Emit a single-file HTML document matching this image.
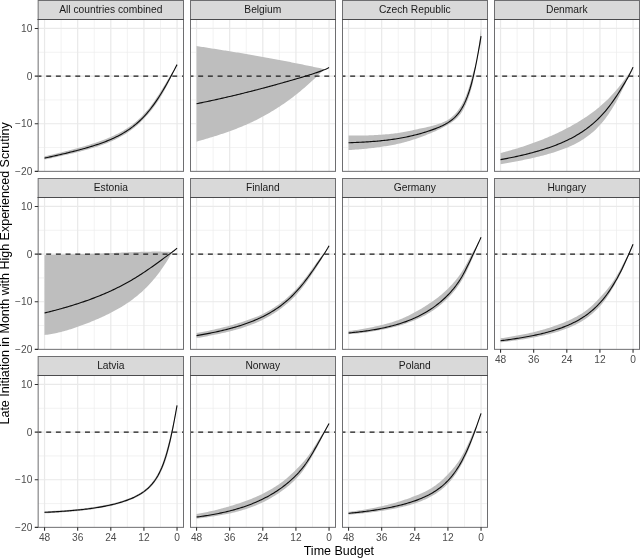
<!DOCTYPE html>
<html lang="en"><head><meta charset="utf-8"><title>Time Budget</title>
<style>html,body{margin:0;padding:0;background:#fff}body{width:640px;height:558px;overflow:hidden}</style></head>
<body>
<svg width="640" height="558" viewBox="0 0 640 558" style="display:block;font-family:'Liberation Sans',Arial,Helvetica,sans-serif">
<rect width="640" height="558" fill="#fff"/>
<defs>
<clipPath id="cp0"><rect x="38.15" y="19.50" width="145.35" height="151.85"/></clipPath>
<clipPath id="cp1"><rect x="190.50" y="19.50" width="145.00" height="151.85"/></clipPath>
<clipPath id="cp2"><rect x="342.50" y="19.50" width="145.00" height="151.85"/></clipPath>
<clipPath id="cp3"><rect x="494.50" y="19.50" width="145.00" height="151.85"/></clipPath>
<clipPath id="cp4"><rect x="38.15" y="197.50" width="145.35" height="151.85"/></clipPath>
<clipPath id="cp5"><rect x="190.50" y="197.50" width="145.00" height="151.85"/></clipPath>
<clipPath id="cp6"><rect x="342.50" y="197.50" width="145.00" height="151.85"/></clipPath>
<clipPath id="cp7"><rect x="494.50" y="197.50" width="145.00" height="151.85"/></clipPath>
<clipPath id="cp8"><rect x="38.15" y="375.50" width="145.35" height="151.85"/></clipPath>
<clipPath id="cp9"><rect x="190.50" y="375.50" width="145.00" height="151.85"/></clipPath>
<clipPath id="cp10"><rect x="342.50" y="375.50" width="145.00" height="151.85"/></clipPath>
</defs>
<g>
<rect x="38.15" y="19.50" width="145.35" height="151.85" fill="#fff"/>
<path d="M38.15 147.57H183.50M38.15 99.92H183.50M38.15 52.27H183.50M61.11 19.50V171.35M94.24 19.50V171.35M127.36 19.50V171.35M160.49 19.50V171.35" stroke="#ebebeb" stroke-width="0.65" fill="none"/>
<path d="M38.15 123.75H183.50M38.15 76.10H183.50M38.15 28.45H183.50M44.55 19.50V171.35M77.67 19.50V171.35M110.80 19.50V171.35M143.92 19.50V171.35M177.05 19.50V171.35" stroke="#e9e9e9" stroke-width="1.2" fill="none"/>
<g clip-path="url(#cp0)">
<polygon points="44.55,156.32 45.93,156.01 47.31,155.69 48.69,155.37 50.07,155.04 51.45,154.72 52.83,154.39 54.21,154.07 55.59,153.74 56.97,153.40 58.35,153.07 59.73,152.73 61.11,152.40 62.49,152.06 63.87,151.71 65.25,151.37 66.63,151.02 68.01,150.67 69.39,150.31 70.77,149.96 72.15,149.59 73.53,149.23 74.91,148.86 76.29,148.49 77.67,148.11 79.06,147.73 80.44,147.34 81.82,146.95 83.20,146.55 84.58,146.14 85.96,145.73 87.34,145.31 88.72,144.89 90.10,144.46 91.48,144.03 92.86,143.58 94.24,143.13 95.62,142.68 97.00,142.21 98.38,141.73 99.76,141.24 101.14,140.74 102.52,140.23 103.90,139.71 105.28,139.18 106.66,138.63 108.04,138.07 109.42,137.49 110.80,136.90 112.18,136.29 113.56,135.66 114.94,135.02 116.32,134.35 117.70,133.66 119.08,132.94 120.46,132.20 121.84,131.43 123.22,130.63 124.60,129.81 125.98,128.95 127.36,128.06 128.74,127.13 130.12,126.17 131.50,125.17 132.88,124.13 134.26,123.04 135.64,121.91 137.02,120.74 138.40,119.52 139.78,118.24 141.16,116.92 142.54,115.54 143.92,114.10 145.30,112.60 146.68,111.03 148.06,109.38 149.45,107.67 150.83,105.89 152.21,104.04 153.59,102.13 154.97,100.16 156.35,98.12 157.73,96.03 159.11,93.89 160.49,91.69 161.87,89.47 163.25,87.23 164.63,84.99 166.01,82.73 167.39,80.45 168.77,78.15 170.15,76.01 171.53,74.02 172.91,71.87 174.29,69.53 175.67,67.12 177.05,64.62 177.05,64.62 175.67,67.41 174.29,70.26 172.91,73.16 171.53,76.19 170.15,79.30 168.77,82.21 167.39,84.90 166.01,87.52 164.63,90.07 163.25,92.54 161.87,94.91 160.49,97.18 159.11,99.36 157.73,101.47 156.35,103.49 154.97,105.44 153.59,107.33 152.21,109.14 150.83,110.89 149.45,112.58 148.06,114.21 146.68,115.78 145.30,117.31 143.92,118.80 142.54,120.24 141.16,121.62 139.78,122.94 138.40,124.22 137.02,125.44 135.64,126.61 134.26,127.74 132.88,128.83 131.50,129.87 130.12,130.87 128.74,131.83 127.36,132.76 125.98,133.65 124.60,134.50 123.22,135.32 121.84,136.11 120.46,136.87 119.08,137.60 117.70,138.31 116.32,138.99 114.94,139.65 113.56,140.28 112.18,140.90 110.80,141.50 109.42,142.08 108.04,142.65 106.66,143.19 105.28,143.73 103.90,144.25 102.52,144.75 101.14,145.25 99.76,145.73 98.38,146.19 97.00,146.65 95.62,147.10 94.24,147.53 92.86,147.96 91.48,148.37 90.10,148.78 88.72,149.18 87.34,149.57 85.96,149.95 84.58,150.32 83.20,150.69 81.82,151.05 80.44,151.41 79.06,151.76 77.67,152.11 76.29,152.45 74.91,152.79 73.53,153.13 72.15,153.46 70.77,153.78 69.39,154.10 68.01,154.42 66.63,154.74 65.25,155.06 63.87,155.37 62.49,155.68 61.11,156.00 59.73,156.31 58.35,156.62 56.97,156.92 55.59,157.23 54.21,157.53 52.83,157.83 51.45,158.13 50.07,158.43 48.69,158.73 47.31,159.03 45.93,159.33 44.55,159.62" fill="#bebebe"/>
<path d="M36.50 76.10H183.50" stroke="#1a1a1a" stroke-width="1.25" stroke-dasharray="4.95 4.75" fill="none"/>
<polyline points="44.55,158.12 45.93,157.82 47.31,157.52 48.69,157.22 50.07,156.91 51.45,156.60 52.83,156.29 54.21,155.98 55.59,155.67 56.97,155.35 58.35,155.04 59.73,154.72 61.11,154.40 62.49,154.07 63.87,153.75 65.25,153.42 66.63,153.09 68.01,152.75 69.39,152.41 70.77,152.07 72.15,151.73 73.53,151.38 74.91,151.03 76.29,150.67 77.67,150.31 79.06,149.94 80.44,149.57 81.82,149.20 83.20,148.82 84.58,148.43 85.96,148.04 87.34,147.64 88.72,147.23 90.10,146.82 91.48,146.40 92.86,145.97 94.24,145.53 95.62,145.09 97.00,144.63 98.38,144.17 99.76,143.69 101.14,143.20 102.52,142.70 103.90,142.19 105.28,141.66 106.66,141.12 108.04,140.56 109.42,139.99 110.80,139.40 112.18,138.79 113.56,138.16 114.94,137.52 116.32,136.85 117.70,136.16 119.08,135.44 120.46,134.70 121.84,133.93 123.22,133.13 124.60,132.31 125.98,131.45 127.36,130.56 128.74,129.63 130.12,128.67 131.50,127.67 132.88,126.63 134.26,125.54 135.64,124.41 137.02,123.24 138.40,122.02 139.78,120.74 141.16,119.42 142.54,118.04 143.92,116.60 145.30,115.10 146.68,113.55 148.06,111.94 149.45,110.26 150.83,108.52 152.21,106.71 153.59,104.84 154.97,102.91 156.35,100.91 157.73,98.85 159.11,96.72 160.49,94.53 161.87,92.28 163.25,89.97 164.63,87.61 166.01,85.20 167.39,82.74 168.77,80.23 170.15,77.69 171.53,75.12 172.91,72.51 174.29,69.89 175.67,67.26 177.05,64.62" fill="none" stroke="#0d0d0d" stroke-width="1.12" stroke-linejoin="round"/>
</g>
<rect x="38.15" y="19.50" width="145.35" height="151.85" fill="none" stroke="#6e6e70" stroke-width="1"/>
<rect x="38.15" y="0.50" width="145.35" height="19.00" fill="#d9d9d9" stroke="#6e6e70" stroke-width="1"/>
<path d="M37.65 19.50H184.00" stroke="#4b4b4d" stroke-width="1" fill="none"/>
<text x="110.82" y="13.35" font-size="10.25" fill="#1a1a1a" text-anchor="middle">All countries combined</text>
<text x="32.35" y="32.00" font-size="10.2" fill="#4d4d4d" text-anchor="end">10</text>
<text x="32.35" y="79.65" font-size="10.2" fill="#4d4d4d" text-anchor="end">0</text>
<text x="32.35" y="127.30" font-size="10.2" fill="#4d4d4d" text-anchor="end">−10</text>
<text x="32.35" y="174.95" font-size="10.2" fill="#4d4d4d" text-anchor="end">−20</text>
<path d="M34.75 28.45H38.15M34.75 76.10H38.15M34.75 123.75H38.15M34.75 171.40H38.15" stroke="#333" stroke-width="1.1" fill="none"/>
</g>
<g>
<rect x="190.50" y="19.50" width="145.00" height="151.85" fill="#fff"/>
<path d="M190.50 147.57H335.50M190.50 99.92H335.50M190.50 52.27H335.50M213.11 19.50V171.35M246.24 19.50V171.35M279.36 19.50V171.35M312.49 19.50V171.35" stroke="#ebebeb" stroke-width="0.65" fill="none"/>
<path d="M190.50 123.75H335.50M190.50 76.10H335.50M190.50 28.45H335.50M196.55 19.50V171.35M229.67 19.50V171.35M262.80 19.50V171.35M295.92 19.50V171.35M329.05 19.50V171.35" stroke="#e9e9e9" stroke-width="1.2" fill="none"/>
<g clip-path="url(#cp1)">
<polygon points="196.55,46.03 197.93,46.24 199.31,46.46 200.69,46.68 202.07,46.89 203.45,47.11 204.83,47.33 206.21,47.54 207.59,47.76 208.97,47.98 210.35,48.19 211.73,48.41 213.11,48.63 214.49,48.84 215.87,49.06 217.25,49.28 218.63,49.50 220.01,49.72 221.39,49.94 222.77,50.16 224.15,50.38 225.53,50.60 226.91,50.82 228.29,51.04 229.67,51.26 231.06,51.49 232.44,51.71 233.82,51.94 235.20,52.16 236.58,52.39 237.96,52.62 239.34,52.85 240.72,53.07 242.10,53.31 243.48,53.54 244.86,53.77 246.24,54.00 247.62,54.24 249.00,54.47 250.38,54.71 251.76,54.95 253.14,55.19 254.52,55.43 255.90,55.67 257.28,55.91 258.66,56.15 260.04,56.40 261.42,56.65 262.80,56.89 264.18,57.14 265.56,57.39 266.94,57.64 268.32,57.90 269.70,58.15 271.08,58.40 272.46,58.66 273.84,58.92 275.22,59.18 276.60,59.44 277.98,59.70 279.36,59.96 280.74,60.22 282.12,60.49 283.50,60.75 284.88,61.02 286.26,61.29 287.64,61.56 289.02,61.83 290.40,62.10 291.78,62.38 293.16,62.65 294.54,62.93 295.92,63.20 297.30,63.48 298.68,63.76 300.06,64.04 301.45,64.32 302.83,64.60 304.21,64.88 305.59,65.17 306.97,65.45 308.35,65.74 309.73,66.03 311.11,66.31 312.49,66.60 313.87,66.89 315.25,67.18 316.63,67.47 318.01,67.76 319.39,68.06 320.77,68.35 322.15,68.64 323.53,68.94 324.91,69.53 326.29,68.93 327.67,68.29 329.05,67.60 329.05,67.60 327.67,68.29 326.29,68.93 324.91,69.53 323.53,70.09 322.15,71.27 320.77,72.65 319.39,74.01 318.01,75.36 316.63,76.69 315.25,78.00 313.87,79.30 312.49,80.58 311.11,81.85 309.73,83.10 308.35,84.34 306.97,85.55 305.59,86.76 304.21,87.94 302.83,89.12 301.45,90.27 300.06,91.41 298.68,92.53 297.30,93.64 295.92,94.74 294.54,95.81 293.16,96.88 291.78,97.92 290.40,98.96 289.02,99.97 287.64,100.97 286.26,101.96 284.88,102.93 283.50,103.89 282.12,104.83 280.74,105.76 279.36,106.67 277.98,107.57 276.60,108.46 275.22,109.33 273.84,110.19 272.46,111.03 271.08,111.86 269.70,112.68 268.32,113.48 266.94,114.27 265.56,115.05 264.18,115.81 262.80,116.57 261.42,117.30 260.04,118.03 258.66,118.74 257.28,119.45 255.90,120.14 254.52,120.81 253.14,121.48 251.76,122.14 250.38,122.78 249.00,123.41 247.62,124.04 246.24,124.65 244.86,125.25 243.48,125.84 242.10,126.42 240.72,127.00 239.34,127.56 237.96,128.11 236.58,128.66 235.20,129.19 233.82,129.72 232.44,130.24 231.06,130.75 229.67,131.25 228.29,131.74 226.91,132.23 225.53,132.71 224.15,133.19 222.77,133.65 221.39,134.11 220.01,134.57 218.63,135.02 217.25,135.46 215.87,135.90 214.49,136.33 213.11,136.76 211.73,137.19 210.35,137.61 208.97,138.03 207.59,138.44 206.21,138.85 204.83,139.26 203.45,139.67 202.07,140.07 200.69,140.47 199.31,140.87 197.93,141.27 196.55,141.67" fill="#bebebe"/>
<path d="M188.50 76.10H335.50" stroke="#1a1a1a" stroke-width="1.25" stroke-dasharray="4.95 4.75" fill="none"/>
<polyline points="196.55,103.73 197.93,103.45 199.31,103.16 200.69,102.88 202.07,102.59 203.45,102.30 204.83,102.01 206.21,101.72 207.59,101.43 208.97,101.14 210.35,100.84 211.73,100.54 213.11,100.24 214.49,99.94 215.87,99.64 217.25,99.33 218.63,99.02 220.01,98.71 221.39,98.40 222.77,98.09 224.15,97.77 225.53,97.46 226.91,97.14 228.29,96.82 229.67,96.50 231.06,96.17 232.44,95.85 233.82,95.52 235.20,95.19 236.58,94.86 237.96,94.53 239.34,94.19 240.72,93.85 242.10,93.51 243.48,93.17 244.86,92.83 246.24,92.49 247.62,92.14 249.00,91.79 250.38,91.44 251.76,91.09 253.14,90.74 254.52,90.38 255.90,90.02 257.28,89.67 258.66,89.30 260.04,88.94 261.42,88.58 262.80,88.21 264.18,87.85 265.56,87.48 266.94,87.11 268.32,86.73 269.70,86.36 271.08,85.98 272.46,85.61 273.84,85.23 275.22,84.85 276.60,84.47 277.98,84.08 279.36,83.70 280.74,83.31 282.12,82.93 283.50,82.54 284.88,82.15 286.26,81.76 287.64,81.37 289.02,80.97 290.40,80.58 291.78,80.18 293.16,79.78 294.54,79.38 295.92,78.98 297.30,78.58 298.68,78.17 300.06,77.77 301.45,77.36 302.83,76.95 304.21,76.53 305.59,76.12 306.97,75.70 308.35,75.27 309.73,74.84 311.11,74.41 312.49,73.97 313.87,73.53 315.25,73.07 316.63,72.61 318.01,72.14 319.39,71.65 320.77,71.15 322.15,70.64 323.53,70.09 324.91,69.53 326.29,68.93 327.67,68.29 329.05,67.60" fill="none" stroke="#0d0d0d" stroke-width="1.12" stroke-linejoin="round"/>
</g>
<rect x="190.50" y="19.50" width="145.00" height="151.85" fill="none" stroke="#6e6e70" stroke-width="1"/>
<rect x="190.50" y="0.50" width="145.00" height="19.00" fill="#d9d9d9" stroke="#6e6e70" stroke-width="1"/>
<path d="M190.00 19.50H336.00" stroke="#4b4b4d" stroke-width="1" fill="none"/>
<text x="262.82" y="13.35" font-size="10.25" fill="#1a1a1a" text-anchor="middle">Belgium</text>
</g>
<g>
<rect x="342.50" y="19.50" width="145.00" height="151.85" fill="#fff"/>
<path d="M342.50 147.57H487.50M342.50 99.92H487.50M342.50 52.27H487.50M365.11 19.50V171.35M398.24 19.50V171.35M431.36 19.50V171.35M464.49 19.50V171.35" stroke="#ebebeb" stroke-width="0.65" fill="none"/>
<path d="M342.50 123.75H487.50M342.50 76.10H487.50M342.50 28.45H487.50M348.55 19.50V171.35M381.67 19.50V171.35M414.80 19.50V171.35M447.92 19.50V171.35M481.05 19.50V171.35" stroke="#e9e9e9" stroke-width="1.2" fill="none"/>
<g clip-path="url(#cp2)">
<polygon points="348.55,135.54 349.93,135.56 351.31,135.58 352.69,135.59 354.07,135.60 355.45,135.60 356.83,135.60 358.21,135.59 359.59,135.58 360.97,135.57 362.35,135.55 363.73,135.52 365.11,135.49 366.49,135.46 367.87,135.41 369.25,135.37 370.63,135.31 372.01,135.25 373.39,135.19 374.77,135.12 376.15,135.04 377.53,134.96 378.91,134.87 380.29,134.78 381.67,134.68 383.05,134.58 384.44,134.48 385.82,134.37 387.20,134.25 388.58,134.13 389.96,134.00 391.34,133.86 392.72,133.71 394.10,133.55 395.48,133.37 396.86,133.19 398.24,132.99 399.62,132.78 401.00,132.55 402.38,132.32 403.76,132.07 405.14,131.81 406.52,131.54 407.90,131.27 409.28,130.98 410.66,130.69 412.04,130.38 413.42,130.08 414.80,129.76 416.18,129.45 417.56,129.15 418.94,128.86 420.32,128.57 421.70,128.28 423.08,127.99 424.46,127.70 425.84,127.39 427.22,127.08 428.60,126.75 429.98,126.40 431.36,126.03 432.74,125.65 434.12,125.27 435.50,124.89 436.88,124.48 438.26,124.06 439.64,123.61 441.02,123.13 442.40,122.60 443.78,122.02 445.16,121.37 446.54,120.65 447.92,119.85 449.30,118.94 450.68,117.93 452.06,116.80 453.45,115.55 454.83,114.17 456.21,112.63 457.59,110.93 458.97,109.05 460.35,106.96 461.73,104.64 463.11,102.07 464.49,99.21 465.87,96.00 467.25,92.40 468.63,88.38 470.01,83.94 471.39,79.06 472.77,73.74 474.15,69.19 475.53,65.05 476.91,58.97 478.29,50.48 479.67,40.12 481.05,28.14 481.05,42.14 479.67,47.53 478.29,53.60 476.91,60.28 475.53,67.94 474.15,76.30 472.77,83.27 471.39,88.52 470.01,93.21 468.63,97.39 467.25,101.10 465.87,104.39 464.49,107.33 463.11,109.91 461.73,112.17 460.35,114.15 458.97,115.87 457.59,117.38 456.21,118.72 454.83,119.92 453.45,120.99 452.06,121.98 450.68,122.91 449.30,123.79 447.92,124.65 446.54,125.48 445.16,126.28 443.78,127.04 442.40,127.78 441.02,128.49 439.64,129.18 438.26,129.86 436.88,130.51 435.50,131.14 434.12,131.76 432.74,132.35 431.36,132.93 429.98,133.50 428.60,134.06 427.22,134.61 425.84,135.15 424.46,135.69 423.08,136.22 421.70,136.74 420.32,137.25 418.94,137.75 417.56,138.24 416.18,138.71 414.80,139.16 413.42,139.61 412.04,140.04 410.66,140.47 409.28,140.89 407.90,141.29 406.52,141.69 405.14,142.07 403.76,142.44 402.38,142.80 401.00,143.14 399.62,143.47 398.24,143.79 396.86,144.09 395.48,144.38 394.10,144.67 392.72,144.94 391.34,145.20 389.96,145.45 388.58,145.69 387.20,145.92 385.82,146.15 384.44,146.36 383.05,146.58 381.67,146.78 380.29,146.98 378.91,147.18 377.53,147.37 376.15,147.55 374.77,147.73 373.39,147.90 372.01,148.06 370.63,148.22 369.25,148.37 367.87,148.52 366.49,148.66 365.11,148.79 363.73,148.92 362.35,149.04 360.97,149.16 359.59,149.28 358.21,149.39 356.83,149.49 355.45,149.60 354.07,149.69 352.69,149.79 351.31,149.88 349.93,149.96 348.55,150.04" fill="#bebebe"/>
<path d="M340.50 76.10H487.50" stroke="#1a1a1a" stroke-width="1.25" stroke-dasharray="4.95 4.75" fill="none"/>
<polyline points="348.55,142.74 349.93,142.70 351.31,142.65 352.69,142.59 354.07,142.54 355.45,142.48 356.83,142.42 358.21,142.36 359.59,142.29 360.97,142.22 362.35,142.15 363.73,142.07 365.11,141.99 366.49,141.91 367.87,141.82 369.25,141.73 370.63,141.63 372.01,141.53 373.39,141.43 374.77,141.32 376.15,141.20 377.53,141.08 378.91,140.95 380.29,140.82 381.67,140.68 383.05,140.54 384.44,140.39 385.82,140.23 387.20,140.07 388.58,139.90 389.96,139.72 391.34,139.53 392.72,139.34 394.10,139.14 395.48,138.93 396.86,138.71 398.24,138.49 399.62,138.26 401.00,138.01 402.38,137.76 403.76,137.50 405.14,137.23 406.52,136.95 407.90,136.66 409.28,136.36 410.66,136.05 412.04,135.73 413.42,135.40 414.80,135.06 416.18,134.71 417.56,134.35 418.94,133.98 420.32,133.60 421.70,133.21 423.08,132.80 424.46,132.39 425.84,131.96 427.22,131.52 428.60,131.07 429.98,130.61 431.36,130.13 432.74,129.64 434.12,129.13 435.50,128.61 436.88,128.06 438.26,127.50 439.64,126.91 441.02,126.29 442.40,125.65 443.78,124.96 445.16,124.24 446.54,123.47 447.92,122.65 449.30,121.76 450.68,120.80 452.06,119.75 453.45,118.60 454.83,117.33 456.21,115.93 457.59,114.38 458.97,112.65 460.35,110.71 461.73,108.54 463.11,106.11 464.49,103.38 465.87,100.32 467.25,96.89 468.63,93.05 470.01,88.76 471.39,83.99 472.77,78.71 474.15,72.89 475.53,66.53 476.91,59.63 478.29,52.21 479.67,44.35 481.05,36.14" fill="none" stroke="#0d0d0d" stroke-width="1.12" stroke-linejoin="round"/>
</g>
<rect x="342.50" y="19.50" width="145.00" height="151.85" fill="none" stroke="#6e6e70" stroke-width="1"/>
<rect x="342.50" y="0.50" width="145.00" height="19.00" fill="#d9d9d9" stroke="#6e6e70" stroke-width="1"/>
<path d="M342.00 19.50H488.00" stroke="#4b4b4d" stroke-width="1" fill="none"/>
<text x="414.82" y="13.35" font-size="10.25" fill="#1a1a1a" text-anchor="middle">Czech Republic</text>
</g>
<g>
<rect x="494.50" y="19.50" width="145.00" height="151.85" fill="#fff"/>
<path d="M494.50 147.57H639.50M494.50 99.92H639.50M494.50 52.27H639.50M517.11 19.50V171.35M550.24 19.50V171.35M583.36 19.50V171.35M616.49 19.50V171.35" stroke="#ebebeb" stroke-width="0.65" fill="none"/>
<path d="M494.50 123.75H639.50M494.50 76.10H639.50M494.50 28.45H639.50M500.55 19.50V171.35M533.67 19.50V171.35M566.80 19.50V171.35M599.92 19.50V171.35M633.05 19.50V171.35" stroke="#e9e9e9" stroke-width="1.2" fill="none"/>
<g clip-path="url(#cp3)">
<polygon points="500.55,153.01 501.93,152.65 503.31,152.29 504.69,151.93 506.07,151.55 507.45,151.18 508.83,150.79 510.21,150.41 511.59,150.01 512.97,149.61 514.35,149.21 515.73,148.80 517.11,148.38 518.49,147.96 519.87,147.53 521.25,147.09 522.63,146.65 524.01,146.20 525.39,145.74 526.77,145.28 528.15,144.81 529.53,144.33 530.91,143.85 532.29,143.36 533.67,142.86 535.05,142.35 536.44,141.84 537.82,141.32 539.20,140.79 540.58,140.25 541.96,139.71 543.34,139.16 544.72,138.60 546.10,138.03 547.48,137.45 548.86,136.86 550.24,136.27 551.62,135.66 553.00,135.05 554.38,134.42 555.76,133.79 557.14,133.15 558.52,132.49 559.90,131.83 561.28,131.16 562.66,130.47 564.04,129.78 565.42,129.07 566.80,128.35 568.18,127.62 569.56,126.88 570.94,126.13 572.32,125.36 573.70,124.58 575.08,123.79 576.46,122.98 577.84,122.16 579.22,121.32 580.60,120.47 581.98,119.60 583.36,118.72 584.74,117.82 586.12,116.90 587.50,115.96 588.88,115.01 590.26,114.03 591.64,113.03 593.02,112.01 594.40,110.96 595.78,109.89 597.16,108.80 598.54,107.67 599.92,106.52 601.30,105.34 602.68,104.12 604.06,102.87 605.45,101.58 606.83,100.26 608.21,98.89 609.59,97.49 610.97,96.04 612.35,94.55 613.73,93.02 615.11,91.44 616.49,89.81 617.87,88.14 619.25,86.43 620.63,84.68 622.01,82.89 623.39,81.06 624.77,79.20 626.15,77.31 627.53,75.40 628.91,73.47 630.29,71.53 631.67,69.59 633.05,67.15 633.05,67.15 631.67,70.30 630.29,73.09 628.91,75.95 627.53,78.97 626.15,81.95 624.77,84.89 623.39,87.77 622.01,90.60 620.63,93.35 619.25,96.04 617.87,98.65 616.49,101.19 615.11,103.64 613.73,106.00 612.35,108.29 610.97,110.49 609.59,112.60 608.21,114.63 606.83,116.57 605.45,118.44 604.06,120.22 602.68,121.93 601.30,123.56 599.92,125.12 598.54,126.61 597.16,128.04 595.78,129.40 594.40,130.70 593.02,131.94 591.64,133.12 590.26,134.25 588.88,135.34 587.50,136.37 586.12,137.36 584.74,138.31 583.36,139.22 581.98,140.09 580.60,140.93 579.22,141.73 577.84,142.50 576.46,143.25 575.08,143.96 573.70,144.65 572.32,145.31 570.94,145.95 569.56,146.56 568.18,147.16 566.80,147.74 565.42,148.29 564.04,148.83 562.66,149.36 561.28,149.87 559.90,150.36 558.52,150.84 557.14,151.30 555.76,151.76 554.38,152.20 553.00,152.63 551.62,153.05 550.24,153.46 548.86,153.86 547.48,154.26 546.10,154.64 544.72,155.01 543.34,155.38 541.96,155.74 540.58,156.09 539.20,156.44 537.82,156.78 536.44,157.11 535.05,157.44 533.67,157.76 532.29,158.08 530.91,158.39 529.53,158.69 528.15,158.99 526.77,159.29 525.39,159.58 524.01,159.86 522.63,160.15 521.25,160.43 519.87,160.70 518.49,160.97 517.11,161.24 515.73,161.50 514.35,161.76 512.97,162.02 511.59,162.27 510.21,162.52 508.83,162.77 507.45,163.01 506.07,163.25 504.69,163.49 503.31,163.72 501.93,163.95 500.55,164.18" fill="#bebebe"/>
<path d="M492.50 76.10H639.50" stroke="#1a1a1a" stroke-width="1.25" stroke-dasharray="4.95 4.75" fill="none"/>
<polyline points="500.55,159.62 501.93,159.37 503.31,159.11 504.69,158.85 506.07,158.59 507.45,158.33 508.83,158.05 510.21,157.78 511.59,157.50 512.97,157.21 514.35,156.93 515.73,156.63 517.11,156.33 518.49,156.03 519.87,155.72 521.25,155.40 522.63,155.08 524.01,154.76 525.39,154.42 526.77,154.09 528.15,153.74 529.53,153.39 530.91,153.03 532.29,152.67 533.67,152.29 535.05,151.91 536.44,151.53 537.82,151.13 539.20,150.73 540.58,150.32 541.96,149.90 543.34,149.47 544.72,149.03 546.10,148.58 547.48,148.12 548.86,147.66 550.24,147.18 551.62,146.69 553.00,146.19 554.38,145.67 555.76,145.15 557.14,144.61 558.52,144.05 559.90,143.49 561.28,142.91 562.66,142.31 564.04,141.70 565.42,141.07 566.80,140.42 568.18,139.76 569.56,139.08 570.94,138.38 572.32,137.65 573.70,136.91 575.08,136.15 576.46,135.36 577.84,134.54 579.22,133.70 580.60,132.84 581.98,131.95 583.36,131.02 584.74,130.07 586.12,129.09 587.50,128.07 588.88,127.01 590.26,125.92 591.64,124.79 593.02,123.62 594.40,122.41 595.78,121.16 597.16,119.86 598.54,118.51 599.92,117.12 601.30,115.67 602.68,114.17 604.06,112.62 605.45,111.01 606.83,109.34 608.21,107.62 609.59,105.84 610.97,104.01 612.35,102.11 613.73,100.16 615.11,98.15 616.49,96.09 617.87,93.99 619.25,91.83 620.63,89.64 622.01,87.41 623.39,85.14 624.77,82.84 626.15,80.50 627.53,78.12 628.91,75.66 630.29,73.09 631.67,70.30 633.05,67.15" fill="none" stroke="#0d0d0d" stroke-width="1.12" stroke-linejoin="round"/>
</g>
<rect x="494.50" y="19.50" width="145.00" height="151.85" fill="none" stroke="#6e6e70" stroke-width="1"/>
<rect x="494.50" y="0.50" width="145.00" height="19.00" fill="#d9d9d9" stroke="#6e6e70" stroke-width="1"/>
<path d="M494.00 19.50H640.00" stroke="#4b4b4d" stroke-width="1" fill="none"/>
<text x="566.82" y="13.35" font-size="10.25" fill="#1a1a1a" text-anchor="middle">Denmark</text>
</g>
<g>
<rect x="38.15" y="197.50" width="145.35" height="151.85" fill="#fff"/>
<path d="M38.15 325.57H183.50M38.15 277.93H183.50M38.15 230.28H183.50M61.11 197.50V349.35M94.24 197.50V349.35M127.36 197.50V349.35M160.49 197.50V349.35" stroke="#ebebeb" stroke-width="0.65" fill="none"/>
<path d="M38.15 301.75H183.50M38.15 254.10H183.50M38.15 206.45H183.50M44.55 197.50V349.35M77.67 197.50V349.35M110.80 197.50V349.35M143.92 197.50V349.35M177.05 197.50V349.35" stroke="#e9e9e9" stroke-width="1.2" fill="none"/>
<g clip-path="url(#cp4)">
<polygon points="44.55,255.17 45.93,255.11 47.31,255.05 48.69,254.99 50.07,254.94 51.45,254.89 52.83,254.84 54.21,254.80 55.59,254.76 56.97,254.71 58.35,254.67 59.73,254.64 61.11,254.60 62.49,254.56 63.87,254.53 65.25,254.49 66.63,254.46 68.01,254.42 69.39,254.39 70.77,254.35 72.15,254.32 73.53,254.29 74.91,254.25 76.29,254.22 77.67,254.18 79.06,254.15 80.44,254.11 81.82,254.07 83.20,254.04 84.58,254.00 85.96,253.96 87.34,253.92 88.72,253.88 90.10,253.84 91.48,253.79 92.86,253.75 94.24,253.70 95.62,253.66 97.00,253.61 98.38,253.56 99.76,253.51 101.14,253.46 102.52,253.41 103.90,253.36 105.28,253.31 106.66,253.25 108.04,253.20 109.42,253.14 110.80,253.08 112.18,253.03 113.56,252.97 114.94,252.91 116.32,252.85 117.70,252.79 119.08,252.73 120.46,252.67 121.84,252.61 123.22,252.55 124.60,252.49 125.98,252.44 127.36,252.38 128.74,252.32 130.12,252.26 131.50,252.21 132.88,252.15 134.26,252.10 135.64,252.05 137.02,252.00 138.40,251.95 139.78,251.90 141.16,251.86 142.54,251.81 143.92,251.78 145.30,251.74 146.68,251.71 148.06,251.68 149.45,251.65 150.83,251.63 152.21,251.61 153.59,251.60 154.97,251.59 156.35,251.58 157.73,251.59 159.11,251.59 160.49,251.61 161.87,251.63 163.25,251.65 164.63,251.68 166.01,251.72 167.39,251.77 168.77,251.82 170.15,251.89 171.53,251.96 172.91,251.55 174.29,250.50 175.67,249.40 177.05,248.25 177.05,248.25 175.67,249.40 174.29,250.50 172.91,251.55 171.53,253.40 170.15,255.82 168.77,258.17 167.39,260.44 166.01,262.65 164.63,264.78 163.25,266.85 161.87,268.85 160.49,270.79 159.11,272.67 157.73,274.48 156.35,276.25 154.97,277.95 153.59,279.61 152.21,281.21 150.83,282.76 149.45,284.27 148.06,285.73 146.68,287.14 145.30,288.51 143.92,289.84 142.54,291.13 141.16,292.38 139.78,293.60 138.40,294.78 137.02,295.92 135.64,297.04 134.26,298.12 132.88,299.17 131.50,300.19 130.12,301.18 128.74,302.15 127.36,303.09 125.98,304.01 124.60,304.91 123.22,305.78 121.84,306.63 120.46,307.46 119.08,308.28 117.70,309.07 116.32,309.85 114.94,310.61 113.56,311.35 112.18,312.08 110.80,312.79 109.42,313.49 108.04,314.18 106.66,314.86 105.28,315.52 103.90,316.17 102.52,316.81 101.14,317.44 99.76,318.06 98.38,318.68 97.00,319.28 95.62,319.87 94.24,320.45 92.86,321.03 91.48,321.59 90.10,322.15 88.72,322.70 87.34,323.25 85.96,323.78 84.58,324.31 83.20,324.83 81.82,325.34 80.44,325.84 79.06,326.34 77.67,326.83 76.29,327.31 74.91,327.78 73.53,328.24 72.15,328.69 70.77,329.13 69.39,329.56 68.01,329.98 66.63,330.40 65.25,330.80 63.87,331.18 62.49,331.56 61.11,331.92 59.73,332.27 58.35,332.60 56.97,332.92 55.59,333.23 54.21,333.52 52.83,333.79 51.45,334.04 50.07,334.27 48.69,334.48 47.31,334.67 45.93,334.84 44.55,334.99" fill="#bebebe"/>
<path d="M36.50 254.10H183.50" stroke="#1a1a1a" stroke-width="1.25" stroke-dasharray="4.95 4.75" fill="none"/>
<polyline points="44.55,313.00 45.93,312.66 47.31,312.32 48.69,311.97 50.07,311.62 51.45,311.27 52.83,310.91 54.21,310.55 55.59,310.18 56.97,309.81 58.35,309.43 59.73,309.06 61.11,308.67 62.49,308.28 63.87,307.89 65.25,307.50 66.63,307.09 68.01,306.69 69.39,306.27 70.77,305.86 72.15,305.44 73.53,305.01 74.91,304.57 76.29,304.14 77.67,303.69 79.06,303.24 80.44,302.79 81.82,302.32 83.20,301.85 84.58,301.38 85.96,300.90 87.34,300.41 88.72,299.92 90.10,299.41 91.48,298.90 92.86,298.39 94.24,297.86 95.62,297.33 97.00,296.79 98.38,296.24 99.76,295.69 101.14,295.12 102.52,294.55 103.90,293.97 105.28,293.38 106.66,292.78 108.04,292.17 109.42,291.55 110.80,290.92 112.18,290.28 113.56,289.63 114.94,288.97 116.32,288.30 117.70,287.62 119.08,286.92 120.46,286.22 121.84,285.50 123.22,284.78 124.60,284.04 125.98,283.29 127.36,282.52 128.74,281.75 130.12,280.96 131.50,280.16 132.88,279.34 134.26,278.52 135.64,277.68 137.02,276.83 138.40,275.96 139.78,275.08 141.16,274.19 142.54,273.29 143.92,272.38 145.30,271.45 146.68,270.52 148.06,269.57 149.45,268.62 150.83,267.65 152.21,266.67 153.59,265.69 154.97,264.70 156.35,263.70 157.73,262.70 159.11,261.70 160.49,260.69 161.87,259.68 163.25,258.67 164.63,257.66 166.01,256.65 167.39,255.64 168.77,254.62 170.15,253.61 171.53,252.59 172.91,251.55 174.29,250.50 175.67,249.40 177.05,248.25" fill="none" stroke="#0d0d0d" stroke-width="1.12" stroke-linejoin="round"/>
</g>
<rect x="38.15" y="197.50" width="145.35" height="151.85" fill="none" stroke="#6e6e70" stroke-width="1"/>
<rect x="38.15" y="178.50" width="145.35" height="19.00" fill="#d9d9d9" stroke="#6e6e70" stroke-width="1"/>
<path d="M37.65 197.50H184.00" stroke="#4b4b4d" stroke-width="1" fill="none"/>
<text x="110.82" y="191.35" font-size="10.25" fill="#1a1a1a" text-anchor="middle">Estonia</text>
<text x="32.35" y="210.00" font-size="10.2" fill="#4d4d4d" text-anchor="end">10</text>
<text x="32.35" y="257.65" font-size="10.2" fill="#4d4d4d" text-anchor="end">0</text>
<text x="32.35" y="305.30" font-size="10.2" fill="#4d4d4d" text-anchor="end">−10</text>
<text x="32.35" y="352.95" font-size="10.2" fill="#4d4d4d" text-anchor="end">−20</text>
<path d="M34.75 206.45H38.15M34.75 254.10H38.15M34.75 301.75H38.15M34.75 349.40H38.15" stroke="#333" stroke-width="1.1" fill="none"/>
</g>
<g>
<rect x="190.50" y="197.50" width="145.00" height="151.85" fill="#fff"/>
<path d="M190.50 325.57H335.50M190.50 277.93H335.50M190.50 230.28H335.50M213.11 197.50V349.35M246.24 197.50V349.35M279.36 197.50V349.35M312.49 197.50V349.35" stroke="#ebebeb" stroke-width="0.65" fill="none"/>
<path d="M190.50 301.75H335.50M190.50 254.10H335.50M190.50 206.45H335.50M196.55 197.50V349.35M229.67 197.50V349.35M262.80 197.50V349.35M295.92 197.50V349.35M329.05 197.50V349.35" stroke="#e9e9e9" stroke-width="1.2" fill="none"/>
<g clip-path="url(#cp5)">
<polygon points="196.55,333.10 197.93,332.84 199.31,332.58 200.69,332.31 202.07,332.04 203.45,331.77 204.83,331.49 206.21,331.21 207.59,330.92 208.97,330.63 210.35,330.34 211.73,330.04 213.11,329.74 214.49,329.43 215.87,329.11 217.25,328.79 218.63,328.46 220.01,328.13 221.39,327.79 222.77,327.44 224.15,327.09 225.53,326.74 226.91,326.38 228.29,326.02 229.67,325.65 231.06,325.28 232.44,324.90 233.82,324.52 235.20,324.12 236.58,323.71 237.96,323.29 239.34,322.87 240.72,322.43 242.10,321.98 243.48,321.52 244.86,321.05 246.24,320.57 247.62,320.08 249.00,319.59 250.38,319.10 251.76,318.61 253.14,318.10 254.52,317.58 255.90,317.05 257.28,316.50 258.66,315.92 260.04,315.32 261.42,314.69 262.80,314.03 264.18,313.33 265.56,312.60 266.94,311.85 268.32,311.07 269.70,310.27 271.08,309.43 272.46,308.57 273.84,307.69 275.22,306.78 276.60,305.85 277.98,304.89 279.36,303.90 280.74,302.89 282.12,301.84 283.50,300.76 284.88,299.64 286.26,298.48 287.64,297.28 289.02,296.04 290.40,294.76 291.78,293.43 293.16,292.07 294.54,290.65 295.92,289.19 297.30,287.69 298.68,286.14 300.06,284.54 301.45,282.90 302.83,281.22 304.21,279.49 305.59,277.72 306.97,275.91 308.35,274.06 309.73,272.18 311.11,270.26 312.49,268.32 313.87,266.38 315.25,264.47 316.63,262.58 318.01,260.71 319.39,258.87 320.77,257.06 322.15,255.39 323.53,253.83 324.91,252.15 326.29,250.25 327.67,248.18 329.05,245.81 329.05,245.81 327.67,248.41 326.29,250.86 324.91,253.24 323.53,255.69 322.15,258.22 320.77,260.61 319.39,262.85 318.01,265.06 316.63,267.24 315.25,269.38 313.87,271.50 312.49,273.57 311.11,275.61 309.73,277.63 308.35,279.60 306.97,281.54 305.59,283.43 304.21,285.27 302.83,287.06 301.45,288.80 300.06,290.48 298.68,292.11 297.30,293.68 295.92,295.19 294.54,296.65 293.16,298.05 291.78,299.40 290.40,300.71 289.02,301.96 287.64,303.18 286.26,304.35 284.88,305.49 283.50,306.59 282.12,307.65 280.74,308.69 279.36,309.70 277.98,310.68 276.60,311.64 275.22,312.57 273.84,313.46 272.46,314.34 271.08,315.18 269.70,316.00 268.32,316.80 266.94,317.57 265.56,318.31 264.18,319.03 262.80,319.73 261.42,320.40 260.04,321.05 258.66,321.68 257.28,322.29 255.90,322.88 254.52,323.45 253.14,324.01 251.76,324.55 250.38,325.07 249.00,325.59 247.62,326.08 246.24,326.57 244.86,327.04 243.48,327.50 242.10,327.94 240.72,328.38 239.34,328.80 237.96,329.21 236.58,329.61 235.20,330.00 233.82,330.37 232.44,330.74 231.06,331.10 229.67,331.45 228.29,331.79 226.91,332.12 225.53,332.44 224.15,332.75 222.77,333.05 221.39,333.34 220.01,333.63 218.63,333.91 217.25,334.19 215.87,334.47 214.49,334.75 213.11,335.04 211.73,335.32 210.35,335.60 208.97,335.87 207.59,336.14 206.21,336.40 204.83,336.66 203.45,336.91 202.07,337.16 200.69,337.40 199.31,337.64 197.93,337.87 196.55,338.10" fill="#bebebe"/>
<path d="M188.50 254.10H335.50" stroke="#1a1a1a" stroke-width="1.25" stroke-dasharray="4.95 4.75" fill="none"/>
<polyline points="196.55,335.60 197.93,335.37 199.31,335.14 200.69,334.90 202.07,334.66 203.45,334.41 204.83,334.16 206.21,333.90 207.59,333.64 208.97,333.37 210.35,333.10 211.73,332.82 213.11,332.54 214.49,332.25 215.87,331.96 217.25,331.66 218.63,331.35 220.01,331.04 221.39,330.72 222.77,330.39 224.15,330.06 225.53,329.72 226.91,329.37 228.29,329.02 229.67,328.65 231.06,328.28 232.44,327.90 233.82,327.52 235.20,327.12 236.58,326.71 237.96,326.29 239.34,325.87 240.72,325.43 242.10,324.98 243.48,324.52 244.86,324.05 246.24,323.57 247.62,323.07 249.00,322.56 250.38,322.04 251.76,321.50 253.14,320.95 254.52,320.38 255.90,319.80 257.28,319.20 258.66,318.59 260.04,317.95 261.42,317.30 262.80,316.63 264.18,315.93 265.56,315.22 266.94,314.48 268.32,313.72 269.70,312.94 271.08,312.13 272.46,311.30 273.84,310.44 275.22,309.55 276.60,308.63 277.98,307.68 279.36,306.70 280.74,305.69 282.12,304.64 283.50,303.56 284.88,302.44 286.26,301.28 287.64,300.08 289.02,298.84 290.40,297.56 291.78,296.23 293.16,294.87 294.54,293.45 295.92,291.99 297.30,290.49 298.68,288.93 300.06,287.33 301.45,285.68 302.83,283.99 304.21,282.24 305.59,280.46 306.97,278.63 308.35,276.76 309.73,274.85 311.11,272.91 312.49,270.95 313.87,268.96 315.25,266.95 316.63,264.93 318.01,262.90 319.39,260.87 320.77,258.84 322.15,256.80 323.53,254.76 324.91,252.69 326.29,250.56 327.67,248.30 329.05,245.81" fill="none" stroke="#0d0d0d" stroke-width="1.12" stroke-linejoin="round"/>
</g>
<rect x="190.50" y="197.50" width="145.00" height="151.85" fill="none" stroke="#6e6e70" stroke-width="1"/>
<rect x="190.50" y="178.50" width="145.00" height="19.00" fill="#d9d9d9" stroke="#6e6e70" stroke-width="1"/>
<path d="M190.00 197.50H336.00" stroke="#4b4b4d" stroke-width="1" fill="none"/>
<text x="262.82" y="191.35" font-size="10.25" fill="#1a1a1a" text-anchor="middle">Finland</text>
</g>
<g>
<rect x="342.50" y="197.50" width="145.00" height="151.85" fill="#fff"/>
<path d="M342.50 325.57H487.50M342.50 277.93H487.50M342.50 230.28H487.50M365.11 197.50V349.35M398.24 197.50V349.35M431.36 197.50V349.35M464.49 197.50V349.35" stroke="#ebebeb" stroke-width="0.65" fill="none"/>
<path d="M342.50 301.75H487.50M342.50 254.10H487.50M342.50 206.45H487.50M348.55 197.50V349.35M381.67 197.50V349.35M414.80 197.50V349.35M447.92 197.50V349.35M481.05 197.50V349.35" stroke="#e9e9e9" stroke-width="1.2" fill="none"/>
<g clip-path="url(#cp6)">
<polygon points="348.55,330.96 349.93,330.80 351.31,330.63 352.69,330.46 354.07,330.28 355.45,330.09 356.83,329.89 358.21,329.69 359.59,329.48 360.97,329.27 362.35,329.04 363.73,328.81 365.11,328.58 366.49,328.33 367.87,328.07 369.25,327.80 370.63,327.52 372.01,327.23 373.39,326.93 374.77,326.62 376.15,326.31 377.53,325.99 378.91,325.66 380.29,325.32 381.67,324.98 383.05,324.63 384.44,324.28 385.82,323.92 387.20,323.55 388.58,323.18 389.96,322.79 391.34,322.38 392.72,321.97 394.10,321.54 395.48,321.09 396.86,320.62 398.24,320.13 399.62,319.61 401.00,319.06 402.38,318.48 403.76,317.87 405.14,317.24 406.52,316.58 407.90,315.91 409.28,315.22 410.66,314.52 412.04,313.80 413.42,313.09 414.80,312.36 416.18,311.62 417.56,310.86 418.94,310.07 420.32,309.26 421.70,308.43 423.08,307.58 424.46,306.71 425.84,305.83 427.22,304.94 428.60,304.03 429.98,303.11 431.36,302.19 432.74,301.25 434.12,300.28 435.50,299.29 436.88,298.26 438.26,297.20 439.64,296.11 441.02,294.98 442.40,293.81 443.78,292.60 445.16,291.35 446.54,290.05 447.92,288.70 449.30,287.30 450.68,285.87 452.06,284.40 453.45,282.87 454.83,281.27 456.21,279.60 457.59,277.85 458.97,276.00 460.35,274.04 461.73,271.96 463.11,269.75 464.49,267.41 465.87,264.95 467.25,262.40 468.63,259.79 470.01,257.17 471.39,254.58 472.77,252.04 474.15,249.84 475.53,247.87 476.91,245.61 478.29,243.00 479.67,240.26 481.05,237.30 481.05,237.30 479.67,240.49 478.29,243.74 476.91,247.02 475.53,250.53 474.15,254.20 472.77,257.65 471.39,260.84 470.01,263.99 468.63,267.08 467.25,270.07 465.87,272.92 464.49,275.61 463.11,278.13 461.73,280.51 460.35,282.74 458.97,284.84 457.59,286.81 456.21,288.67 454.83,290.43 453.45,292.10 452.06,293.70 450.68,295.22 449.30,296.69 447.92,298.10 446.54,299.46 445.16,300.77 443.78,302.04 442.40,303.26 441.02,304.44 439.64,305.57 438.26,306.67 436.88,307.73 435.50,308.75 434.12,309.73 432.74,310.68 431.36,311.59 429.98,312.47 428.60,313.30 427.22,314.11 425.84,314.88 424.46,315.63 423.08,316.34 421.70,317.03 420.32,317.70 418.94,318.34 417.56,318.97 416.18,319.57 414.80,320.16 413.42,320.73 412.04,321.29 410.66,321.83 409.28,322.34 407.90,322.85 406.52,323.33 405.14,323.80 403.76,324.26 402.38,324.70 401.00,325.12 399.62,325.53 398.24,325.93 396.86,326.31 395.48,326.68 394.10,327.03 392.72,327.37 391.34,327.70 389.96,328.02 388.58,328.32 387.20,328.63 385.82,328.92 384.44,329.21 383.05,329.50 381.67,329.78 380.29,330.06 378.91,330.33 377.53,330.59 376.15,330.84 374.77,331.08 373.39,331.32 372.01,331.54 370.63,331.76 369.25,331.98 367.87,332.18 366.49,332.38 365.11,332.58 363.73,332.76 362.35,332.93 360.97,333.10 359.59,333.25 358.21,333.40 356.83,333.53 355.45,333.66 354.07,333.78 352.69,333.90 351.31,334.01 349.93,334.11 348.55,334.21" fill="#bebebe"/>
<path d="M340.50 254.10H487.50" stroke="#1a1a1a" stroke-width="1.25" stroke-dasharray="4.95 4.75" fill="none"/>
<polyline points="348.55,332.96 349.93,332.83 351.31,332.69 352.69,332.56 354.07,332.41 355.45,332.26 356.83,332.11 358.21,331.95 359.59,331.79 360.97,331.62 362.35,331.44 363.73,331.26 365.11,331.08 366.49,330.88 367.87,330.68 369.25,330.48 370.63,330.26 372.01,330.04 373.39,329.82 374.77,329.58 376.15,329.34 377.53,329.09 378.91,328.83 380.29,328.56 381.67,328.28 383.05,327.99 384.44,327.70 385.82,327.39 387.20,327.07 388.58,326.75 389.96,326.41 391.34,326.06 392.72,325.70 394.10,325.32 395.48,324.94 396.86,324.54 398.24,324.13 399.62,323.70 401.00,323.26 402.38,322.81 403.76,322.34 405.14,321.85 406.52,321.35 407.90,320.83 409.28,320.29 410.66,319.74 412.04,319.17 413.42,318.57 414.80,317.96 416.18,317.33 417.56,316.67 418.94,316.00 420.32,315.30 421.70,314.58 423.08,313.83 424.46,313.06 425.84,312.26 427.22,311.44 428.60,310.58 429.98,309.70 431.36,308.79 432.74,307.85 434.12,306.87 435.50,305.86 436.88,304.82 438.26,303.74 439.64,302.62 441.02,301.46 442.40,300.26 443.78,299.02 445.16,297.73 446.54,296.39 447.92,295.00 449.30,293.55 450.68,292.04 452.06,290.47 453.45,288.82 454.83,287.09 456.21,285.28 457.59,283.36 458.97,281.34 460.35,279.20 461.73,276.94 463.11,274.54 464.49,272.01 465.87,269.36 467.25,266.61 468.63,263.78 470.01,260.90 471.39,257.99 472.77,255.08 474.15,252.17 475.53,249.25 476.91,246.32 478.29,243.36 479.67,240.36 481.05,237.30" fill="none" stroke="#0d0d0d" stroke-width="1.12" stroke-linejoin="round"/>
</g>
<rect x="342.50" y="197.50" width="145.00" height="151.85" fill="none" stroke="#6e6e70" stroke-width="1"/>
<rect x="342.50" y="178.50" width="145.00" height="19.00" fill="#d9d9d9" stroke="#6e6e70" stroke-width="1"/>
<path d="M342.00 197.50H488.00" stroke="#4b4b4d" stroke-width="1" fill="none"/>
<text x="414.82" y="191.35" font-size="10.25" fill="#1a1a1a" text-anchor="middle">Germany</text>
</g>
<g>
<rect x="494.50" y="197.50" width="145.00" height="151.85" fill="#fff"/>
<path d="M494.50 325.57H639.50M494.50 277.93H639.50M494.50 230.28H639.50M517.11 197.50V349.35M550.24 197.50V349.35M583.36 197.50V349.35M616.49 197.50V349.35" stroke="#ebebeb" stroke-width="0.65" fill="none"/>
<path d="M494.50 301.75H639.50M494.50 254.10H639.50M494.50 206.45H639.50M500.55 197.50V349.35M533.67 197.50V349.35M566.80 197.50V349.35M599.92 197.50V349.35M633.05 197.50V349.35" stroke="#e9e9e9" stroke-width="1.2" fill="none"/>
<g clip-path="url(#cp7)">
<polygon points="500.55,338.31 501.93,338.11 503.31,337.91 504.69,337.70 506.07,337.49 507.45,337.27 508.83,337.05 510.21,336.82 511.59,336.59 512.97,336.36 514.35,336.12 515.73,335.87 517.11,335.62 518.49,335.36 519.87,335.10 521.25,334.84 522.63,334.56 524.01,334.28 525.39,334.00 526.77,333.71 528.15,333.41 529.53,333.10 530.91,332.79 532.29,332.47 533.67,332.14 535.05,331.80 536.44,331.45 537.82,331.09 539.20,330.72 540.58,330.34 541.96,329.95 543.34,329.55 544.72,329.15 546.10,328.73 547.48,328.31 548.86,327.88 550.24,327.44 551.62,327.00 553.00,326.54 554.38,326.07 555.76,325.58 557.14,325.08 558.52,324.57 559.90,324.05 561.28,323.52 562.66,322.97 564.04,322.41 565.42,321.85 566.80,321.26 568.18,320.67 569.56,320.05 570.94,319.42 572.32,318.76 573.70,318.08 575.08,317.37 576.46,316.64 577.84,315.87 579.22,315.08 580.60,314.25 581.98,313.39 583.36,312.48 584.74,311.53 586.12,310.52 587.50,309.45 588.88,308.33 590.26,307.16 591.64,305.93 593.02,304.66 594.40,303.34 595.78,301.97 597.16,300.56 598.54,299.11 599.92,297.62 601.30,296.10 602.68,294.57 604.06,293.00 605.45,291.39 606.83,289.73 608.21,288.02 609.59,286.24 610.97,284.38 612.35,282.44 613.73,280.41 615.11,278.28 616.49,276.04 617.87,273.69 619.25,271.23 620.63,268.69 622.01,266.08 623.39,263.42 624.77,260.73 626.15,258.20 627.53,255.77 628.91,253.15 630.29,250.29 631.67,247.32 633.05,244.23 633.05,244.23 631.67,247.69 630.29,251.18 628.91,254.65 627.53,258.19 626.15,261.73 624.77,265.00 623.39,267.99 622.01,270.89 620.63,273.68 619.25,276.38 617.87,279.01 616.49,281.56 615.11,284.04 613.73,286.47 612.35,288.83 610.97,291.11 609.59,293.32 608.21,295.46 606.83,297.50 605.45,299.46 604.06,301.32 602.68,303.09 601.30,304.76 599.92,306.32 598.54,307.80 597.16,309.21 595.78,310.55 594.40,311.84 593.02,313.06 591.64,314.24 590.26,315.36 588.88,316.43 587.50,317.46 586.12,318.44 584.74,319.38 583.36,320.28 581.98,321.15 580.60,321.97 579.22,322.76 577.84,323.52 576.46,324.24 575.08,324.94 573.70,325.60 572.32,326.24 570.94,326.85 569.56,327.44 568.18,328.01 566.80,328.56 565.42,329.09 564.04,329.61 562.66,330.10 561.28,330.57 559.90,331.03 558.52,331.48 557.14,331.90 555.76,332.32 554.38,332.72 553.00,333.11 551.62,333.48 550.24,333.84 548.86,334.20 547.48,334.53 546.10,334.86 544.72,335.18 543.34,335.49 541.96,335.79 540.58,336.08 539.20,336.36 537.82,336.64 536.44,336.91 535.05,337.18 533.67,337.44 532.29,337.70 530.91,337.96 529.53,338.21 528.15,338.45 526.77,338.69 525.39,338.92 524.01,339.15 522.63,339.38 521.25,339.60 519.87,339.81 518.49,340.02 517.11,340.22 515.73,340.42 514.35,340.61 512.97,340.80 511.59,340.98 510.21,341.16 508.83,341.34 507.45,341.51 506.07,341.68 504.69,341.84 503.31,342.00 501.93,342.16 500.55,342.31" fill="#bebebe"/>
<path d="M492.50 254.10H639.50" stroke="#1a1a1a" stroke-width="1.25" stroke-dasharray="4.95 4.75" fill="none"/>
<polyline points="500.55,340.71 501.93,340.54 503.31,340.37 504.69,340.19 506.07,340.01 507.45,339.83 508.83,339.64 510.21,339.44 511.59,339.25 512.97,339.05 514.35,338.84 515.73,338.63 517.11,338.42 518.49,338.20 519.87,337.98 521.25,337.75 522.63,337.51 524.01,337.28 525.39,337.03 526.77,336.78 528.15,336.53 529.53,336.27 530.91,336.00 532.29,335.72 533.67,335.44 535.05,335.15 536.44,334.86 537.82,334.56 539.20,334.25 540.58,333.93 541.96,333.60 543.34,333.27 544.72,332.92 546.10,332.57 547.48,332.20 548.86,331.83 550.24,331.44 551.62,331.05 553.00,330.64 554.38,330.22 555.76,329.79 557.14,329.34 558.52,328.88 559.90,328.40 561.28,327.91 562.66,327.40 564.04,326.87 565.42,326.33 566.80,325.76 568.18,325.18 569.56,324.57 570.94,323.95 572.32,323.30 573.70,322.62 575.08,321.92 576.46,321.19 577.84,320.43 579.22,319.65 580.60,318.83 581.98,317.97 583.36,317.08 584.74,316.16 586.12,315.19 587.50,314.19 588.88,313.14 590.26,312.05 591.64,310.90 593.02,309.71 594.40,308.47 595.78,307.17 597.16,305.81 598.54,304.40 599.92,302.92 601.30,301.38 602.68,299.77 604.06,298.09 605.45,296.33 606.83,294.50 608.21,292.60 609.59,290.61 610.97,288.54 612.35,286.39 613.73,284.15 615.11,281.82 616.49,279.41 617.87,276.91 619.25,274.32 620.63,271.64 622.01,268.88 623.39,266.03 624.77,263.10 626.15,260.10 627.53,257.03 628.91,253.90 630.29,250.71 631.67,247.49 633.05,244.23" fill="none" stroke="#0d0d0d" stroke-width="1.12" stroke-linejoin="round"/>
</g>
<rect x="494.50" y="197.50" width="145.00" height="151.85" fill="none" stroke="#6e6e70" stroke-width="1"/>
<rect x="494.50" y="178.50" width="145.00" height="19.00" fill="#d9d9d9" stroke="#6e6e70" stroke-width="1"/>
<path d="M494.00 197.50H640.00" stroke="#4b4b4d" stroke-width="1" fill="none"/>
<text x="566.82" y="191.35" font-size="10.25" fill="#1a1a1a" text-anchor="middle">Hungary</text>
<text x="500.55" y="362.55" font-size="10.2" fill="#4d4d4d" text-anchor="middle">48</text>
<text x="533.67" y="362.55" font-size="10.2" fill="#4d4d4d" text-anchor="middle">36</text>
<text x="566.80" y="362.55" font-size="10.2" fill="#4d4d4d" text-anchor="middle">24</text>
<text x="599.92" y="362.55" font-size="10.2" fill="#4d4d4d" text-anchor="middle">12</text>
<text x="633.05" y="362.55" font-size="10.2" fill="#4d4d4d" text-anchor="middle">0</text>
<path d="M500.55 349.35V352.75M533.67 349.35V352.75M566.80 349.35V352.75M599.92 349.35V352.75M633.05 349.35V352.75" stroke="#333" stroke-width="1.1" fill="none"/>
</g>
<g>
<rect x="38.15" y="375.50" width="145.35" height="151.85" fill="#fff"/>
<path d="M38.15 503.58H183.50M38.15 455.93H183.50M38.15 408.28H183.50M61.11 375.50V527.35M94.24 375.50V527.35M127.36 375.50V527.35M160.49 375.50V527.35" stroke="#ebebeb" stroke-width="0.65" fill="none"/>
<path d="M38.15 479.75H183.50M38.15 432.10H183.50M38.15 384.45H183.50M44.55 375.50V527.35M77.67 375.50V527.35M110.80 375.50V527.35M143.92 375.50V527.35M177.05 375.50V527.35" stroke="#e9e9e9" stroke-width="1.2" fill="none"/>
<g clip-path="url(#cp8)">
<polygon points="44.55,511.34 45.93,511.27 47.31,511.21 48.69,511.14 50.07,511.07 51.45,510.99 52.83,510.92 54.21,510.84 55.59,510.76 56.97,510.68 58.35,510.59 59.73,510.50 61.11,510.41 62.49,510.31 63.87,510.22 65.25,510.11 66.63,510.01 68.01,509.90 69.39,509.79 70.77,509.67 72.15,509.55 73.53,509.43 74.91,509.30 76.29,509.17 77.67,509.03 79.06,508.89 80.44,508.75 81.82,508.60 83.20,508.44 84.58,508.28 85.96,508.12 87.34,507.94 88.72,507.77 90.10,507.58 91.48,507.39 92.86,507.20 94.24,506.99 95.62,506.78 97.00,506.56 98.38,506.34 99.76,506.11 101.14,505.87 102.52,505.62 103.90,505.36 105.28,505.09 106.66,504.81 108.04,504.52 109.42,504.23 110.80,503.92 112.18,503.60 113.56,503.27 114.94,502.92 116.32,502.56 117.70,502.19 119.08,501.80 120.46,501.40 121.84,500.98 123.22,500.54 124.60,500.09 125.98,499.61 127.36,499.11 128.74,498.59 130.12,498.04 131.50,497.46 132.88,496.85 134.26,496.20 135.64,495.52 137.02,494.79 138.40,494.02 139.78,493.21 141.16,492.34 142.54,491.41 143.92,490.42 145.30,489.35 146.68,488.18 148.06,486.91 149.45,485.52 150.83,484.01 152.21,482.36 153.59,480.55 154.97,478.55 156.35,476.36 157.73,473.94 159.11,471.27 160.49,468.32 161.87,464.99 163.25,461.22 164.63,457.05 166.01,452.48 167.39,447.55 168.77,442.28 170.15,436.79 171.53,431.08 172.91,425.00 174.29,418.62 175.67,412.09 177.05,405.44 177.05,405.44 175.67,414.12 174.29,422.37 172.91,430.04 171.53,437.17 170.15,443.74 168.77,449.58 167.39,454.68 166.01,459.18 164.63,463.16 163.25,466.70 161.87,469.89 160.49,472.83 159.11,475.51 157.73,477.93 156.35,480.10 154.97,482.06 153.59,483.84 152.21,485.45 150.83,486.93 149.45,488.28 148.06,489.53 146.68,490.68 145.30,491.76 143.92,492.77 142.54,493.71 141.16,494.59 139.78,495.42 138.40,496.19 137.02,496.92 135.64,497.62 134.26,498.27 132.88,498.89 131.50,499.48 130.12,500.05 128.74,500.59 127.36,501.11 125.98,501.61 124.60,502.09 123.22,502.54 121.84,502.98 120.46,503.40 119.08,503.80 117.70,504.19 116.32,504.56 114.94,504.92 113.56,505.27 112.18,505.60 110.80,505.92 109.42,506.23 108.04,506.52 106.66,506.81 105.28,507.09 103.90,507.36 102.52,507.62 101.14,507.87 99.76,508.11 98.38,508.34 97.00,508.56 95.62,508.78 94.24,508.99 92.86,509.20 91.48,509.39 90.10,509.58 88.72,509.77 87.34,509.94 85.96,510.12 84.58,510.28 83.20,510.44 81.82,510.60 80.44,510.75 79.06,510.89 77.67,511.03 76.29,511.17 74.91,511.30 73.53,511.43 72.15,511.55 70.77,511.67 69.39,511.79 68.01,511.90 66.63,512.01 65.25,512.11 63.87,512.22 62.49,512.31 61.11,512.41 59.73,512.50 58.35,512.59 56.97,512.68 55.59,512.76 54.21,512.84 52.83,512.92 51.45,512.99 50.07,513.07 48.69,513.14 47.31,513.21 45.93,513.27 44.55,513.34" fill="#bebebe"/>
<path d="M36.50 432.10H183.50" stroke="#1a1a1a" stroke-width="1.25" stroke-dasharray="4.95 4.75" fill="none"/>
<polyline points="44.55,512.34 45.93,512.27 47.31,512.21 48.69,512.14 50.07,512.07 51.45,511.99 52.83,511.92 54.21,511.84 55.59,511.76 56.97,511.68 58.35,511.59 59.73,511.50 61.11,511.41 62.49,511.31 63.87,511.22 65.25,511.11 66.63,511.01 68.01,510.90 69.39,510.79 70.77,510.67 72.15,510.55 73.53,510.43 74.91,510.30 76.29,510.17 77.67,510.03 79.06,509.89 80.44,509.75 81.82,509.60 83.20,509.44 84.58,509.28 85.96,509.12 87.34,508.94 88.72,508.77 90.10,508.58 91.48,508.39 92.86,508.20 94.24,507.99 95.62,507.78 97.00,507.56 98.38,507.34 99.76,507.11 101.14,506.87 102.52,506.62 103.90,506.36 105.28,506.09 106.66,505.81 108.04,505.52 109.42,505.23 110.80,504.92 112.18,504.60 113.56,504.27 114.94,503.92 116.32,503.56 117.70,503.19 119.08,502.80 120.46,502.40 121.84,501.98 123.22,501.54 124.60,501.09 125.98,500.61 127.36,500.11 128.74,499.59 130.12,499.04 131.50,498.47 132.88,497.87 134.26,497.24 135.64,496.57 137.02,495.86 138.40,495.11 139.78,494.31 141.16,493.47 142.54,492.56 143.92,491.59 145.30,490.55 146.68,489.43 148.06,488.22 149.45,486.90 150.83,485.47 152.21,483.91 153.59,482.19 154.97,480.31 156.35,478.23 157.73,475.94 159.11,473.39 160.49,470.57 161.87,467.44 163.25,463.96 164.63,460.10 166.01,455.83 167.39,451.11 168.77,445.93 170.15,440.27 171.53,434.12 172.91,427.52 174.29,420.50 175.67,413.11 177.05,405.44" fill="none" stroke="#0d0d0d" stroke-width="1.12" stroke-linejoin="round"/>
</g>
<rect x="38.15" y="375.50" width="145.35" height="151.85" fill="none" stroke="#6e6e70" stroke-width="1"/>
<rect x="38.15" y="356.50" width="145.35" height="19.00" fill="#d9d9d9" stroke="#6e6e70" stroke-width="1"/>
<path d="M37.65 375.50H184.00" stroke="#4b4b4d" stroke-width="1" fill="none"/>
<text x="110.82" y="369.35" font-size="10.25" fill="#1a1a1a" text-anchor="middle">Latvia</text>
<text x="32.35" y="388.00" font-size="10.2" fill="#4d4d4d" text-anchor="end">10</text>
<text x="32.35" y="435.65" font-size="10.2" fill="#4d4d4d" text-anchor="end">0</text>
<text x="32.35" y="483.30" font-size="10.2" fill="#4d4d4d" text-anchor="end">−10</text>
<text x="32.35" y="530.95" font-size="10.2" fill="#4d4d4d" text-anchor="end">−20</text>
<path d="M34.75 384.45H38.15M34.75 432.10H38.15M34.75 479.75H38.15M34.75 527.40H38.15" stroke="#333" stroke-width="1.1" fill="none"/>
<text x="44.55" y="540.55" font-size="10.2" fill="#4d4d4d" text-anchor="middle">48</text>
<text x="77.67" y="540.55" font-size="10.2" fill="#4d4d4d" text-anchor="middle">36</text>
<text x="110.80" y="540.55" font-size="10.2" fill="#4d4d4d" text-anchor="middle">24</text>
<text x="143.92" y="540.55" font-size="10.2" fill="#4d4d4d" text-anchor="middle">12</text>
<text x="177.05" y="540.55" font-size="10.2" fill="#4d4d4d" text-anchor="middle">0</text>
<path d="M44.55 527.35V530.75M77.67 527.35V530.75M110.80 527.35V530.75M143.92 527.35V530.75M177.05 527.35V530.75" stroke="#333" stroke-width="1.1" fill="none"/>
</g>
<g>
<rect x="190.50" y="375.50" width="145.00" height="151.85" fill="#fff"/>
<path d="M190.50 503.58H335.50M190.50 455.93H335.50M190.50 408.28H335.50M213.11 375.50V527.35M246.24 375.50V527.35M279.36 375.50V527.35M312.49 375.50V527.35" stroke="#ebebeb" stroke-width="0.65" fill="none"/>
<path d="M190.50 479.75H335.50M190.50 432.10H335.50M190.50 384.45H335.50M196.55 375.50V527.35M229.67 375.50V527.35M262.80 375.50V527.35M295.92 375.50V527.35M329.05 375.50V527.35" stroke="#e9e9e9" stroke-width="1.2" fill="none"/>
<g clip-path="url(#cp9)">
<polygon points="196.55,513.96 197.93,513.73 199.31,513.49 200.69,513.24 202.07,512.99 203.45,512.73 204.83,512.46 206.21,512.19 207.59,511.91 208.97,511.62 210.35,511.32 211.73,511.02 213.11,510.70 214.49,510.38 215.87,510.04 217.25,509.70 218.63,509.34 220.01,508.97 221.39,508.60 222.77,508.22 224.15,507.83 225.53,507.43 226.91,507.04 228.29,506.64 229.67,506.23 231.06,505.83 232.44,505.41 233.82,504.98 235.20,504.54 236.58,504.10 237.96,503.64 239.34,503.18 240.72,502.71 242.10,502.23 243.48,501.75 244.86,501.26 246.24,500.76 247.62,500.25 249.00,499.73 250.38,499.19 251.76,498.65 253.14,498.08 254.52,497.51 255.90,496.91 257.28,496.31 258.66,495.68 260.04,495.05 261.42,494.39 262.80,493.72 264.18,493.03 265.56,492.32 266.94,491.59 268.32,490.84 269.70,490.07 271.08,489.28 272.46,488.46 273.84,487.62 275.22,486.76 276.60,485.87 277.98,484.95 279.36,484.01 280.74,483.04 282.12,482.02 283.50,480.96 284.88,479.86 286.26,478.72 287.64,477.55 289.02,476.33 290.40,475.09 291.78,473.81 293.16,472.49 294.54,471.14 295.92,469.75 297.30,468.35 298.68,466.93 300.06,465.49 301.45,464.02 302.83,462.50 304.21,460.92 305.59,459.27 306.97,457.53 308.35,455.71 309.73,453.78 311.11,451.76 312.49,449.65 313.87,447.46 315.25,445.21 316.63,442.95 318.01,440.69 319.39,438.47 320.77,436.29 322.15,434.32 323.53,432.48 324.91,430.47 326.29,428.23 327.67,425.90 329.05,423.41 329.05,423.41 327.67,426.16 326.29,428.93 324.91,431.72 323.53,434.61 322.15,437.57 320.77,440.39 319.39,443.04 318.01,445.65 316.63,448.23 315.25,450.78 313.87,453.30 312.49,455.78 311.11,458.20 309.73,460.56 308.35,462.84 306.97,465.02 305.59,467.10 304.21,469.09 302.83,470.97 301.45,472.77 300.06,474.47 298.68,476.08 297.30,477.61 295.92,479.05 294.54,480.43 293.16,481.75 291.78,483.02 290.40,484.24 289.02,485.42 287.64,486.56 286.26,487.67 284.88,488.73 283.50,489.77 282.12,490.78 280.74,491.76 279.36,492.71 277.98,493.64 276.60,494.55 275.22,495.43 273.84,496.29 272.46,497.12 271.08,497.93 269.70,498.71 268.32,499.48 266.94,500.22 265.56,500.94 264.18,501.64 262.80,502.32 261.42,502.98 260.04,503.61 258.66,504.23 257.28,504.82 255.90,505.40 254.52,505.95 253.14,506.50 251.76,507.02 250.38,507.53 249.00,508.02 247.62,508.50 246.24,508.96 244.86,509.41 243.48,509.84 242.10,510.26 240.72,510.66 239.34,511.05 237.96,511.42 236.58,511.79 235.20,512.14 233.82,512.48 232.44,512.81 231.06,513.13 229.67,513.43 228.29,513.73 226.91,514.02 225.53,514.29 224.15,514.55 222.77,514.80 221.39,515.05 220.01,515.29 218.63,515.52 217.25,515.74 215.87,515.97 214.49,516.19 213.11,516.40 211.73,516.62 210.35,516.83 208.97,517.03 207.59,517.23 206.21,517.42 204.83,517.61 203.45,517.79 202.07,517.97 200.69,518.15 199.31,518.32 197.93,518.50 196.55,518.66" fill="#bebebe"/>
<path d="M188.50 432.10H335.50" stroke="#1a1a1a" stroke-width="1.25" stroke-dasharray="4.95 4.75" fill="none"/>
<polyline points="196.55,517.06 197.93,516.88 199.31,516.69 200.69,516.50 202.07,516.30 203.45,516.10 204.83,515.89 206.21,515.67 207.59,515.45 208.97,515.23 210.35,514.99 211.73,514.75 213.11,514.50 214.49,514.25 215.87,513.99 217.25,513.72 218.63,513.44 220.01,513.16 221.39,512.87 222.77,512.57 224.15,512.26 225.53,511.94 226.91,511.61 228.29,511.28 229.67,510.93 231.06,510.58 232.44,510.22 233.82,509.84 235.20,509.46 236.58,509.06 237.96,508.65 239.34,508.23 240.72,507.80 242.10,507.36 243.48,506.91 244.86,506.44 246.24,505.96 247.62,505.46 249.00,504.96 250.38,504.43 251.76,503.90 253.14,503.34 254.52,502.78 255.90,502.19 257.28,501.59 258.66,500.98 260.04,500.34 261.42,499.69 262.80,499.02 264.18,498.33 265.56,497.62 266.94,496.89 268.32,496.14 269.70,495.37 271.08,494.58 272.46,493.76 273.84,492.92 275.22,492.06 276.60,491.17 277.98,490.25 279.36,489.31 280.74,488.35 282.12,487.35 283.50,486.32 284.88,485.26 286.26,484.17 287.64,483.05 289.02,481.88 290.40,480.69 291.78,479.45 293.16,478.16 294.54,476.83 295.92,475.45 297.30,474.02 298.68,472.53 300.06,470.97 301.45,469.34 302.83,467.64 304.21,465.85 305.59,463.97 306.97,462.00 308.35,459.93 309.73,457.77 311.11,455.53 312.49,453.21 313.87,450.83 315.25,448.40 316.63,445.95 318.01,443.49 319.39,441.02 320.77,438.55 322.15,436.07 323.53,433.59 324.91,431.09 326.29,428.57 327.67,426.01 329.05,423.41" fill="none" stroke="#0d0d0d" stroke-width="1.12" stroke-linejoin="round"/>
</g>
<rect x="190.50" y="375.50" width="145.00" height="151.85" fill="none" stroke="#6e6e70" stroke-width="1"/>
<rect x="190.50" y="356.50" width="145.00" height="19.00" fill="#d9d9d9" stroke="#6e6e70" stroke-width="1"/>
<path d="M190.00 375.50H336.00" stroke="#4b4b4d" stroke-width="1" fill="none"/>
<text x="262.82" y="369.35" font-size="10.25" fill="#1a1a1a" text-anchor="middle">Norway</text>
<text x="196.55" y="540.55" font-size="10.2" fill="#4d4d4d" text-anchor="middle">48</text>
<text x="229.67" y="540.55" font-size="10.2" fill="#4d4d4d" text-anchor="middle">36</text>
<text x="262.80" y="540.55" font-size="10.2" fill="#4d4d4d" text-anchor="middle">24</text>
<text x="295.92" y="540.55" font-size="10.2" fill="#4d4d4d" text-anchor="middle">12</text>
<text x="329.05" y="540.55" font-size="10.2" fill="#4d4d4d" text-anchor="middle">0</text>
<path d="M196.55 527.35V530.75M229.67 527.35V530.75M262.80 527.35V530.75M295.92 527.35V530.75M329.05 527.35V530.75" stroke="#333" stroke-width="1.1" fill="none"/>
</g>
<g>
<rect x="342.50" y="375.50" width="145.00" height="151.85" fill="#fff"/>
<path d="M342.50 503.58H487.50M342.50 455.93H487.50M342.50 408.28H487.50M365.11 375.50V527.35M398.24 375.50V527.35M431.36 375.50V527.35M464.49 375.50V527.35" stroke="#ebebeb" stroke-width="0.65" fill="none"/>
<path d="M342.50 479.75H487.50M342.50 432.10H487.50M342.50 384.45H487.50M348.55 375.50V527.35M381.67 375.50V527.35M414.80 375.50V527.35M447.92 375.50V527.35M481.05 375.50V527.35" stroke="#e9e9e9" stroke-width="1.2" fill="none"/>
<g clip-path="url(#cp10)">
<polygon points="348.55,511.83 349.93,511.67 351.31,511.50 352.69,511.32 354.07,511.14 355.45,510.95 356.83,510.76 358.21,510.56 359.59,510.35 360.97,510.14 362.35,509.93 363.73,509.71 365.11,509.48 366.49,509.25 367.87,509.01 369.25,508.76 370.63,508.51 372.01,508.24 373.39,507.97 374.77,507.70 376.15,507.41 377.53,507.12 378.91,506.82 380.29,506.52 381.67,506.21 383.05,505.90 384.44,505.57 385.82,505.23 387.20,504.89 388.58,504.54 389.96,504.18 391.34,503.81 392.72,503.43 394.10,503.05 395.48,502.65 396.86,502.25 398.24,501.84 399.62,501.42 401.00,500.99 402.38,500.54 403.76,500.09 405.14,499.62 406.52,499.13 407.90,498.64 409.28,498.14 410.66,497.63 412.04,497.11 413.42,496.59 414.80,496.05 416.18,495.51 417.56,494.95 418.94,494.38 420.32,493.79 421.70,493.18 423.08,492.55 424.46,491.90 425.84,491.22 427.22,490.51 428.60,489.76 429.98,488.99 431.36,488.17 432.74,487.30 434.12,486.37 435.50,485.39 436.88,484.36 438.26,483.27 439.64,482.14 441.02,480.95 442.40,479.72 443.78,478.44 445.16,477.11 446.54,475.73 447.92,474.30 449.30,472.84 450.68,471.32 452.06,469.75 453.45,468.11 454.83,466.40 456.21,464.59 457.59,462.69 458.97,460.67 460.35,458.54 461.73,456.27 463.11,453.87 464.49,451.32 465.87,448.61 467.25,445.75 468.63,442.76 470.01,439.67 471.39,436.50 472.77,433.26 474.15,430.30 475.53,427.55 476.91,424.46 478.29,420.94 479.67,417.27 481.05,413.38 481.05,413.38 479.67,417.65 478.29,421.96 476.91,426.25 475.53,430.65 474.15,435.05 472.77,439.12 471.39,442.83 470.01,446.40 468.63,449.81 467.25,453.05 465.87,456.11 464.49,459.00 463.11,461.73 461.73,464.33 460.35,466.78 458.97,469.11 457.59,471.32 456.21,473.40 454.83,475.37 453.45,477.23 452.06,478.99 450.68,480.65 449.30,482.22 447.92,483.70 446.54,485.11 445.16,486.43 443.78,487.68 442.40,488.86 441.02,489.98 439.64,491.04 438.26,492.04 436.88,493.00 435.50,493.90 434.12,494.76 432.74,495.58 431.36,496.37 429.98,497.11 428.60,497.82 427.22,498.50 425.84,499.15 424.46,499.77 423.08,500.37 421.70,500.93 420.32,501.48 418.94,502.00 417.56,502.50 416.18,502.99 414.80,503.45 413.42,503.90 412.04,504.32 410.66,504.73 409.28,505.13 407.90,505.51 406.52,505.88 405.14,506.23 403.76,506.57 402.38,506.90 401.00,507.23 399.62,507.54 398.24,507.84 396.86,508.14 395.48,508.43 394.10,508.71 392.72,508.99 391.34,509.25 389.96,509.51 388.58,509.76 387.20,510.01 385.82,510.24 384.44,510.47 383.05,510.70 381.67,510.91 380.29,511.12 378.91,511.33 377.53,511.53 376.15,511.72 374.77,511.91 373.39,512.09 372.01,512.27 370.63,512.44 369.25,512.61 367.87,512.77 366.49,512.93 365.11,513.08 363.73,513.23 362.35,513.38 360.97,513.52 359.59,513.66 358.21,513.79 356.83,513.92 355.45,514.05 354.07,514.17 352.69,514.29 351.31,514.41 349.93,514.52 348.55,514.63" fill="#bebebe"/>
<path d="M340.50 432.10H487.50" stroke="#1a1a1a" stroke-width="1.25" stroke-dasharray="4.95 4.75" fill="none"/>
<polyline points="348.55,513.33 349.93,513.20 351.31,513.06 352.69,512.92 354.07,512.77 355.45,512.62 356.83,512.47 358.21,512.32 359.59,512.16 360.97,512.00 362.35,511.83 363.73,511.66 365.11,511.48 366.49,511.30 367.87,511.12 369.25,510.93 370.63,510.74 372.01,510.54 373.39,510.34 374.77,510.13 376.15,509.92 377.53,509.70 378.91,509.48 380.29,509.25 381.67,509.01 383.05,508.77 384.44,508.52 385.82,508.27 387.20,508.01 388.58,507.74 389.96,507.46 391.34,507.18 392.72,506.89 394.10,506.59 395.48,506.29 396.86,505.97 398.24,505.64 399.62,505.31 401.00,504.96 402.38,504.61 403.76,504.24 405.14,503.87 406.52,503.48 407.90,503.07 409.28,502.66 410.66,502.23 412.04,501.79 413.42,501.33 414.80,500.85 416.18,500.36 417.56,499.85 418.94,499.32 420.32,498.77 421.70,498.20 423.08,497.60 424.46,496.98 425.84,496.34 427.22,495.67 428.60,494.97 429.98,494.23 431.36,493.47 432.74,492.66 434.12,491.82 435.50,490.94 436.88,490.02 438.26,489.04 439.64,488.02 441.02,486.94 442.40,485.81 443.78,484.61 445.16,483.35 446.54,482.01 447.92,480.60 449.30,479.11 450.68,477.54 452.06,475.87 453.45,474.10 454.83,472.24 456.21,470.26 457.59,468.17 458.97,465.96 460.35,463.62 461.73,461.16 463.11,458.57 464.49,455.84 465.87,452.97 467.25,449.97 468.63,446.82 470.01,443.55 471.39,440.14 472.77,436.61 474.15,432.96 475.53,429.20 476.91,425.35 478.29,421.42 479.67,417.43 481.05,413.38" fill="none" stroke="#0d0d0d" stroke-width="1.12" stroke-linejoin="round"/>
</g>
<rect x="342.50" y="375.50" width="145.00" height="151.85" fill="none" stroke="#6e6e70" stroke-width="1"/>
<rect x="342.50" y="356.50" width="145.00" height="19.00" fill="#d9d9d9" stroke="#6e6e70" stroke-width="1"/>
<path d="M342.00 375.50H488.00" stroke="#4b4b4d" stroke-width="1" fill="none"/>
<text x="414.82" y="369.35" font-size="10.25" fill="#1a1a1a" text-anchor="middle">Poland</text>
<text x="348.55" y="540.55" font-size="10.2" fill="#4d4d4d" text-anchor="middle">48</text>
<text x="381.67" y="540.55" font-size="10.2" fill="#4d4d4d" text-anchor="middle">36</text>
<text x="414.80" y="540.55" font-size="10.2" fill="#4d4d4d" text-anchor="middle">24</text>
<text x="447.92" y="540.55" font-size="10.2" fill="#4d4d4d" text-anchor="middle">12</text>
<text x="481.05" y="540.55" font-size="10.2" fill="#4d4d4d" text-anchor="middle">0</text>
<path d="M348.55 527.35V530.75M381.67 527.35V530.75M414.80 527.35V530.75M447.92 527.35V530.75M481.05 527.35V530.75" stroke="#333" stroke-width="1.1" fill="none"/>
</g>
<text x="338.9" y="554.9" font-size="12.5" fill="#000" text-anchor="middle">Time Budget</text>
<text transform="translate(9.0 273.4) rotate(-90)" font-size="12.5" fill="#000" text-anchor="middle">Late Initiation in Month with High Experienced Scrutiny</text>
</svg>
</body></html>
